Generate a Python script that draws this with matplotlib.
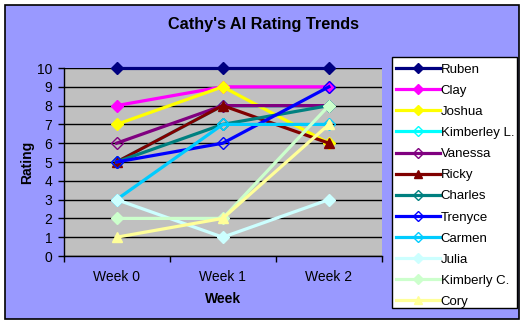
import matplotlib
matplotlib.use("Agg")
import matplotlib.pyplot as plt
from matplotlib.patches import Rectangle

plt.rcParams['font.family'] = ['Liberation Sans', 'DejaVu Sans']

weeks = ["Week 0", "Week 1", "Week 2"]
names = ["Ruben", "Clay", "Joshua", "Kimberley L.", "Vanessa", "Ricky",
         "Charles", "Trenyce", "Carmen", "Julia", "Kimberly C.", "Cory"]
ruben = [10, 10, 10]
clay = [8, 9, 9]
joshua = [7, 9, 6]
kimberley_l = [5, 8, 8]
vanessa = [6, 8, 8]
ricky = [5, 8, 6]
charles = [5, 7, 8]
trenyce = [5, 6, 9]
carmen = [3, 7, 7]
julia = [3, 1, 3]
kimberly_c = [2, 2, 8]
cory = [1, 2, 7]
series = [ruben, clay, joshua, kimberley_l, vanessa, ricky,
          charles, trenyce, carmen, julia, kimberly_c, cory]
colors = ["#000080", "#FF00FF", "#FFFF00", "#00FFFF", "#800080", "#800000",
          "#008080", "#0000FF", "#00CCFF", "#CCFFFF", "#CCFFCC", "#FFFF99"]
markers = ["D", "D", "D", "D", "D", "^", "D", "D", "D", "D", "D", "^"]
filled = [True, True, True, False, False, True, False, False, False, True, True, True]

W, H = 528, 326
fig = plt.figure(figsize=(W / 100, H / 100), dpi=100)
fig.patch.set_facecolor("white")
fig.patches.append(Rectangle((5 / W, 1 - 319 / H), (519 - 5) / W, (319 - 5) / H,
                             transform=fig.transFigure, facecolor="#9999FF",
                             edgecolor="black", linewidth=1.2, zorder=-10))
# legend box
fig.patches.append(Rectangle((392 / W, 1 - 308 / H), (517 - 392) / W, (308 - 57) / H,
                             transform=fig.transFigure, facecolor="white",
                             edgecolor="black", linewidth=1.0, zorder=4))

ax = fig.add_axes([63.5 / W, 1 - 256 / H, (382 - 63.5) / W, (256 - 68) / H])
ax.set_facecolor("#C0C0C0")
x = list(range(len(weeks)))
for s, name, c, m, f in zip(series, names, colors, markers, filled):
    ax.plot(x, s, color=c, linewidth=2.3, marker=m,
            markersize=6 if m == "D" else 7.5,
            markerfacecolor=c if f else "none",
            markeredgecolor=c, markeredgewidth=1.0, label=name,
            clip_on=False, zorder=3)

ax.set_xlim(-0.5, 2.5)
ax.set_ylim(0, 10)
ax.set_yticks(range(0, 11))
ax.set_xticks(x)
ax.set_xticklabels(weeks)
ax.set_xticks([-0.5, 0.5, 1.5, 2.5], minor=True)
ax.tick_params(axis="x", which="major", length=0, pad=10, labelsize=10)
ax.tick_params(axis="x", which="minor", length=4, direction="out", width=1)
ax.tick_params(axis="y", length=4, direction="out", width=1, labelsize=10, pad=4)
ax.grid(axis="y", color="black", linewidth=1.0, zorder=1)
ax.set_axisbelow(True)
for side in ["top", "right"]:
    ax.spines[side].set_visible(False)
for side in ["left", "bottom"]:
    ax.spines[side].set_color("black")
    ax.spines[side].set_linewidth(1.0)

ax.set_xlabel("Week", fontsize=10, fontweight="bold", labelpad=6)
ax.set_ylabel("Rating", fontsize=10, fontweight="bold", labelpad=2)
fig.text(264 / W, 1 - 25 / H, "Cathy's AI Rating Trends", ha="center", va="center",
         fontsize=11.7, fontweight="bold")

leg = fig.legend(loc="upper left", bbox_to_anchor=(396 / W, 1 - 63.5 / H),
                 bbox_transform=fig.transFigure, frameon=False,
                 fontsize=9.5, handlelength=3.3, labelspacing=0.673,
                 borderpad=0, handletextpad=0.1, borderaxespad=0,
                 markerscale=0.8)
leg.set_zorder(5)

fig.savefig("out.png", dpi=100, facecolor=fig.get_facecolor())
